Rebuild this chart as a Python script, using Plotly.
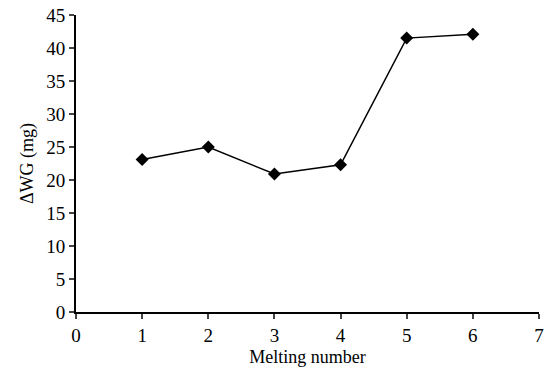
import plotly.graph_objects as go

melting_number = [1, 2, 3, 4, 5, 6]
delta_wg = [23.1, 25.0, 20.9, 22.3, 41.5, 42.1]
x_ticks = [0, 1, 2, 3, 4, 5, 6, 7]
y_ticks = [0, 5, 10, 15, 20, 25, 30, 35, 40, 45]

fig = go.Figure()
fig.add_trace(go.Scatter(
    x=melting_number, y=delta_wg, mode="lines+markers",
    line=dict(color="black", width=1.5),
    marker=dict(symbol="diamond", size=10, color="black"),
    showlegend=False, cliponaxis=False,
))

family = "Liberation Serif, Times New Roman, serif"
tick_font = dict(family=family, size=19, color="black")
title_font = dict(family=family, size=18, color="black")
fig.update_layout(
    width=546, height=371,
    margin=dict(l=76, r=7, t=15, b=59),
    paper_bgcolor="white", plot_bgcolor="white",
    font=title_font,
)
fig.update_xaxes(
    range=[0, 7], tickvals=x_ticks, ticks="outside", ticklen=5, tickwidth=2,
    showline=True, linecolor="black", linewidth=2, showgrid=False, zeroline=False,
    title=dict(text="Melting number", standoff=6, font=title_font), tickfont=tick_font,
    automargin=False,
)
fig.update_yaxes(
    range=[0, 45], tickvals=y_ticks, ticks="outside", ticklen=5, tickwidth=2,
    showline=True, linecolor="black", linewidth=2, showgrid=False, zeroline=False,
    title=dict(text="ΔWG (mg)", standoff=8, font=title_font), tickfont=tick_font,
    automargin=False,
)
fig.write_html("out.html", config={"displayModeBar": False},
               post_script="document.body.style.margin='0';")
